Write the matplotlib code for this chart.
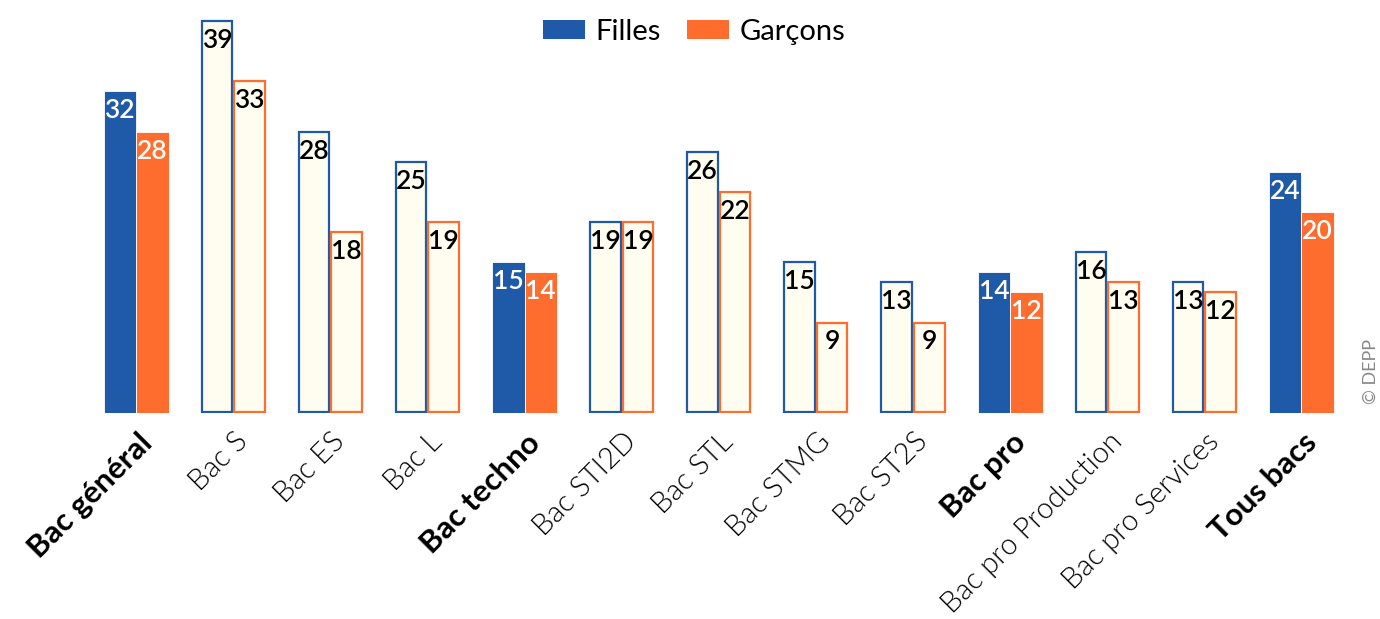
import matplotlib
matplotlib.use("Agg")
import matplotlib.pyplot as plt
import numpy as np
from matplotlib.patches import Patch

categories = ["Bac général", "Bac S", "Bac ES", "Bac L", "Bac techno", "Bac STI2D",
              "Bac STL", "Bac STMG", "Bac ST2S", "Bac pro", "Bac pro Production",
              "Bac pro Services", "Tous bacs"]
filles = [32, 39, 28, 25, 15, 19, 26, 15, 13, 14, 16, 13, 24]
garcons = [28, 33, 18, 19, 14, 19, 22, 9, 9, 12, 13, 12, 20]
aggregate = [True, False, False, False, True, False, False, False, False, True, False, False, True]
series_names = ["Filles", "Garçons"]

BLUE = "#1f5aa8"
ORANGE = "#ff6d2e"
IVORY = "#fffdf0"

plt.rcParams['font.family'] = ['Lato', 'DejaVu Sans']

fig = plt.figure(figsize=(13.8, 6.19), dpi=100)
ax = fig.add_axes([87.5/1380, 206/619, (1350-87.5)/1380, 402/619])
x = np.arange(len(categories))
w = 0.335

for i in range(len(categories)):
    for vals, col, off in ((filles, BLUE, -w/2), (garcons, ORANGE, w/2)):
        v = vals[i]
        if aggregate[i]:
            ax.bar(x[i] + off, v, width=w, color=col, edgecolor="white", linewidth=0.6)
            tc = "white"
        else:
            ax.bar(x[i] + off, v - 0.1, bottom=0.1, width=w - 0.02, color=IVORY, edgecolor=col, linewidth=1.6)
            tc = "black"
        ax.annotate(str(v), (x[i] + off, v), xytext=(0, -5), textcoords="offset points",
                    ha="center", va="top", fontsize=19, color=tc, fontweight="semibold")

ax.set_xlim(-0.5, len(categories) - 0.5)
ax.set_ylim(0, 40)
ax.axis("off")

for i, c in enumerate(categories):
    ax.annotate(c, (x[i], 0), xytext=(1, -11), textcoords="offset points",
                ha="right", va="top", rotation=45, rotation_mode="anchor",
                fontsize=22.5 if aggregate[i] else 21,
                fontweight="bold" if aggregate[i] else 300, color="black")

handles = [Patch(facecolor=BLUE), Patch(facecolor=ORANGE)]
fig.legend(handles, series_names, loc="upper center", bbox_to_anchor=(0.503, 1.012), ncol=2,
           frameon=False, fontsize=21, handlelength=1.45, handleheight=0.6,
           columnspacing=0.9, handletextpad=0.35)

fig.text(0.993, 0.40, "© DEPP", rotation=90, ha="center", va="center", fontsize=13, color="#888888")

fig.savefig("out.png", dpi=100)
